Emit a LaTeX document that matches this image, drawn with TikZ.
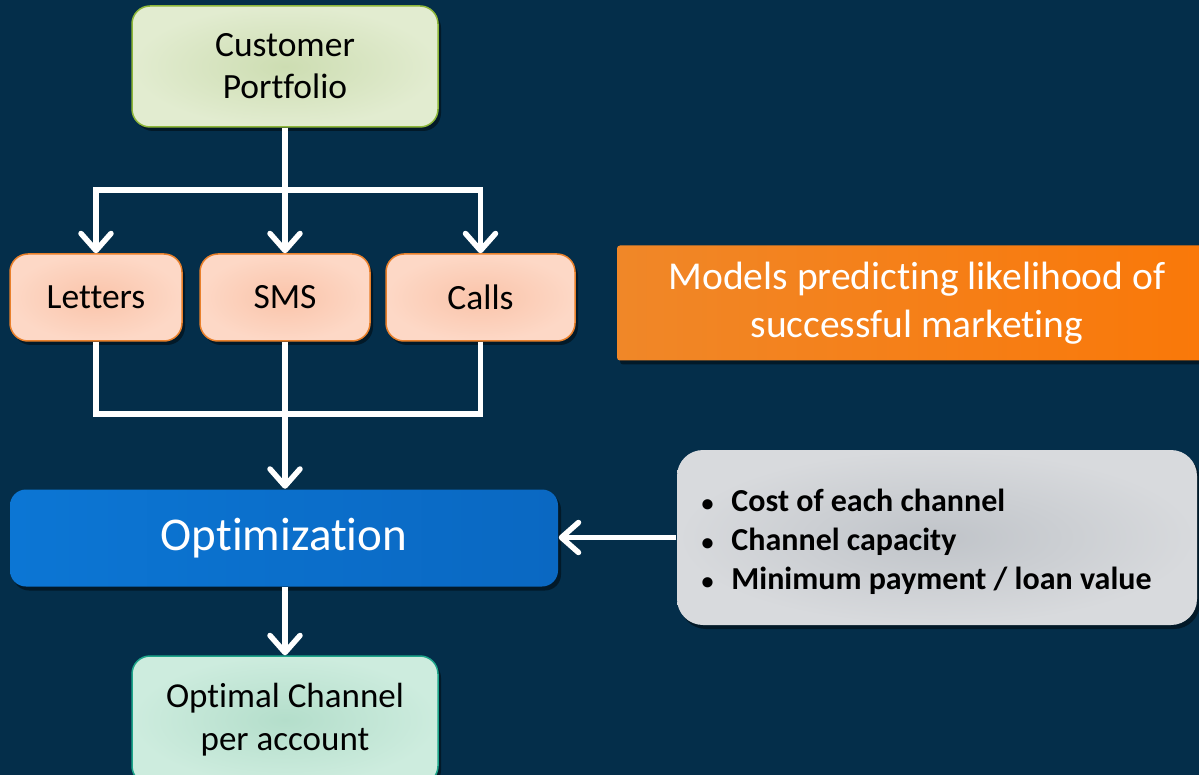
\documentclass[tikz,border=0pt]{standalone}
\usepackage{fontspec}
\setmainfont{Carlito}[Ligatures=NoCommon]
\usetikzlibrary{arrows.meta,shadows}
\definecolor{bg}{RGB}{4,46,74}
\definecolor{greenA}{RGB}{205,221,178}
\definecolor{greenB}{RGB}{226,236,208}
\definecolor{greenE}{RGB}{141,182,58}
\definecolor{peachA}{RGB}{250,196,170}
\definecolor{peachB}{RGB}{253,216,198}
\definecolor{peachE}{RGB}{233,128,43}
\definecolor{orangeA}{RGB}{240,135,40}
\definecolor{orangeB}{RGB}{250,120,8}
\definecolor{blueA}{RGB}{12,118,212}
\definecolor{blueB}{RGB}{10,104,194}
\definecolor{grayA}{RGB}{192,196,201}
\definecolor{grayB}{RGB}{216,218,221}
\definecolor{mintA}{RGB}{180,222,203}
\definecolor{mintB}{RGB}{205,236,222}
\definecolor{mintE}{RGB}{30,165,138}
\newcommand{\bul}{{\fontsize{24}{24}\selectfont•}\hspace{18pt}}
\tikzset{
  box/.style={rounded corners=18pt, line width=1.5pt, align=center,
    drop shadow={shadow xshift=3pt, shadow yshift=-4pt, opacity=0.45, fill=black}},
  greenbox/.style={box, draw=greenE, inner color=greenA, outer color=greenB,
    font=\fontsize{35.5}{42}\selectfont},
  peachbox/.style={box, draw=peachE, inner color=peachA, outer color=peachB,
    font=\fontsize{35.5}{40}\selectfont},
  orangebox/.style={box, rounded corners=3pt, draw=none, left color=orangeA, right color=orangeB,
    text=white, font=\fontsize{39.5}{48}\selectfont},
  bluebox/.style={box, rounded corners=16pt, draw=none, left color=blueA, right color=blueB,
    text=white, font=\fontsize{47}{52}\selectfont},
  graybox/.style={box, rounded corners=26pt, draw=none, inner color=grayA, outer color=grayB,
    font=\fontsize{32}{39}\selectfont\bfseries},
  mintbox/.style={box, draw=mintE, inner color=mintA, outer color=mintB,
    font=\fontsize{35}{43}\selectfont},
  wire/.style={draw=white, line width=5.5pt},
  arr/.style={wire, -{Straight Barb[length=17pt, width=30pt, line cap=round, line join=round]}}
}
\begin{document}
\begin{tikzpicture}[x=1pt, y=-1pt]
\fill[bg] (0,0) rectangle (1199,775);
\useasboundingbox (0,0) rectangle (1199,775);

\node[greenbox, minimum width=306pt, minimum height=121pt] (cust) at (285,66.5) {Customer\\Portfolio};
\node[peachbox, minimum width=172pt, minimum height=87pt] (let) at (96,297.5) {Letters};
\node[peachbox, minimum width=170pt, minimum height=87pt] (sms) at (285,297.5) {SMS};
\node[peachbox, minimum width=189pt, minimum height=87pt] (calls) at (480.5,297.5) {Calls};
\node[orangebox, minimum width=600pt, minimum height=115pt] (models) at (917,303)
  {Models predicting likelihood of\\successful marketing};
\node[graybox, minimum width=520pt, minimum height=175pt, inner xsep=0pt] (gray) at (937,537.5)
  {\hspace*{-9pt}\raisebox{-4pt}[\height][\depth]{\parbox{462pt}{\raggedright
   \bul Cost of each channel\\
   \bul Channel capacity\\
   \bul Minimum payment / loan value}}};
\node[bluebox, minimum width=548pt, minimum height=97pt] (opt) at (284,538) {Optimization};
\node[mintbox, minimum width=306pt, minimum height=128pt] (optimal) at (285,720) {Optimal Channel\\per account};

\coordinate (bus1) at (285,190);
\coordinate (bus2) at (285,414);
\draw[wire] (cust.south) -- (bus1);
\draw[arr] (bus1) -| (let.north);
\draw[arr] (bus1) -| (calls.north);
\draw[arr] (bus1) -- (sms.north);
\draw[wire] (let.south) |- (bus2);
\draw[wire] (calls.south) |- (bus2);
\draw[arr] (sms.south) -- (opt.north -| sms.south);
\draw[arr] (opt.south -| optimal.north) -- (optimal.north);
\draw[arr] (gray.west) -- (opt.east |- gray.west);
\end{tikzpicture}
\end{document}
